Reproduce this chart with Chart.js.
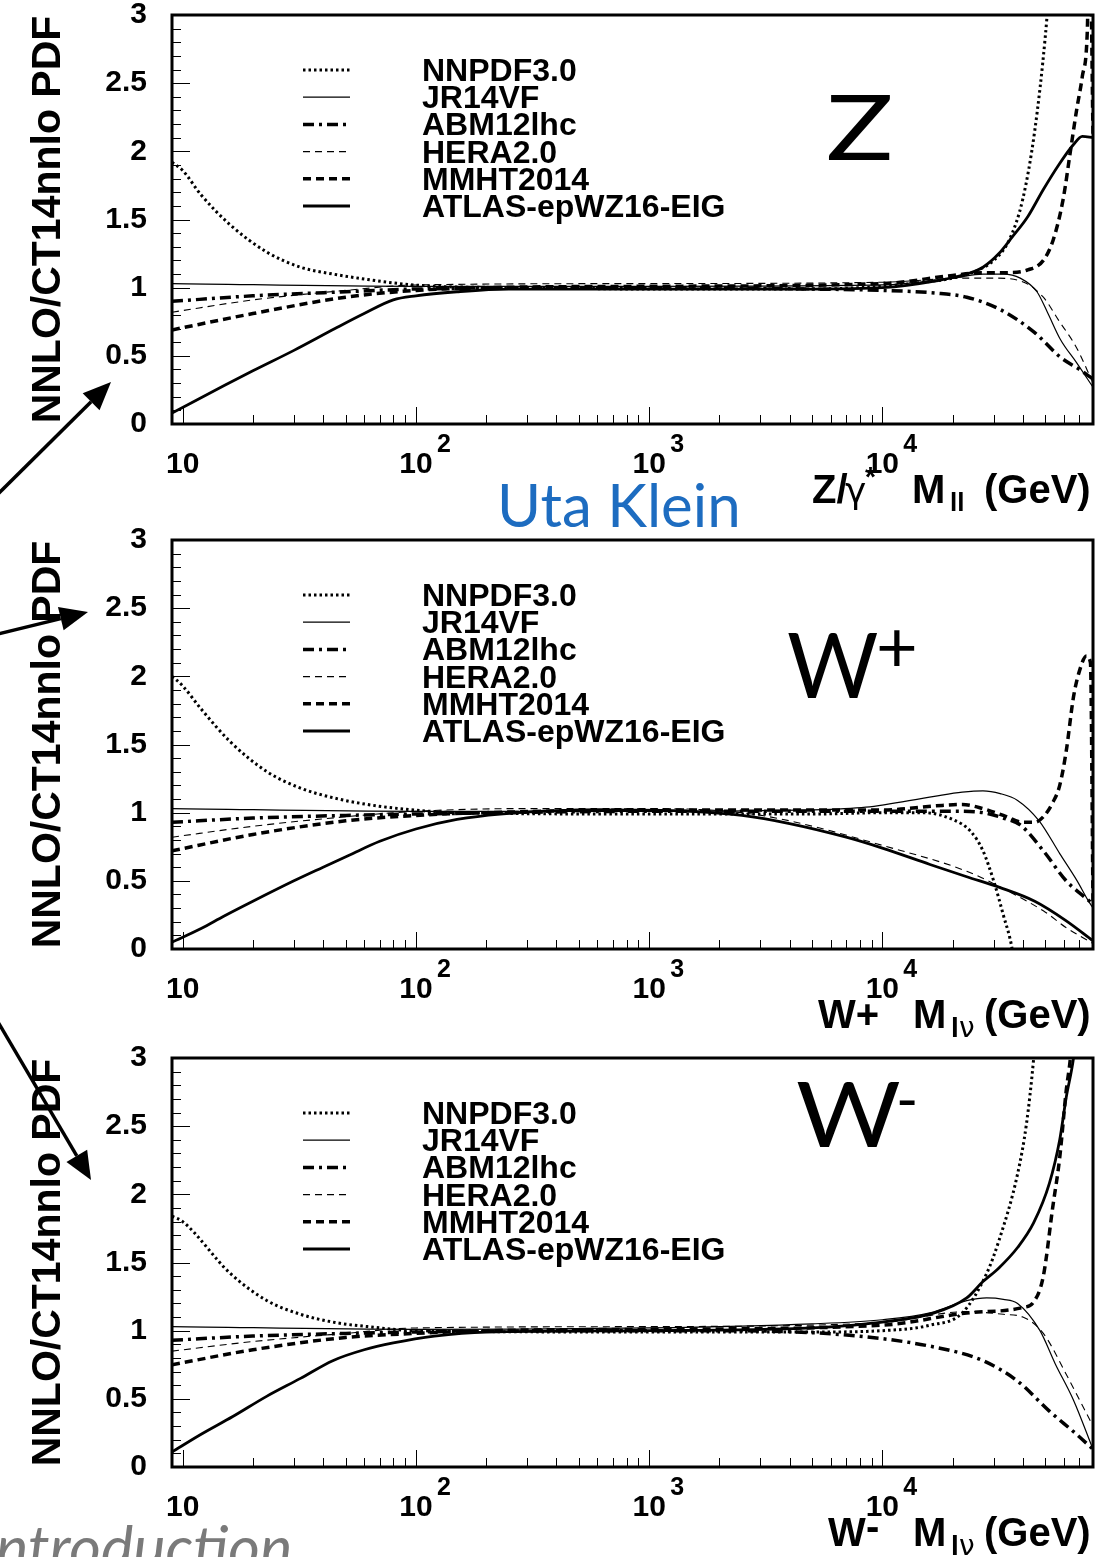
<!DOCTYPE html>
<html>
<head>
<meta charset="utf-8">
<script src="https://cdn.jsdelivr.net/npm/chart.js@4.4.1/dist/chart.umd.min.js"></script>
<style>
  html, body { margin: 0; padding: 0; background: #fff; overflow: hidden; }
  body { width: 1107px; height: 1557px; position: relative; }
  canvas.panel { position: absolute; left: 0; }
  #notes { position: absolute; left: 0; top: 0; }
</style>
</head>
<body>
<canvas id="pZ" class="panel" width="1107" height="548" style="top:-28px"></canvas>
<canvas id="pWp" class="panel" width="1107" height="548" style="top:497px"></canvas>
<canvas id="pWm" class="panel" width="1107" height="548" style="top:1015px"></canvas>
<svg id="notes" width="1107" height="1557">
  <text x="497" y="527" font-family="Lato, 'Open Sans', sans-serif" font-size="60" fill="#1d6cc0">Uta Klein</text>
  <text x="-4" y="1569" font-family="Lato, 'Open Sans', sans-serif" font-style="italic" font-size="61" fill="#7a7a7a">ntroduction</text>
</svg>
<script>
// PDF sets, in legend order
const pdfSets = ['NNPDF3.0', 'JR14VF', 'ABM12lhc', 'HERA2.0', 'MMHT2014', 'ATLAS-epWZ16-EIG'];
const yTitle = 'NNLO/CT14nnlo PDF';
const massRange = [9, 80000];
const decadeTicks = [10, 100, 1000, 10000];
const decadeExp = ['', '2', '3', '4'];

// ratio to CT14nnlo vs mass (GeV) -- Z/gamma* panel
const zNNPDF = [[9,1.92],[10,1.86],[12,1.68],[16,1.46],[23,1.26],[32,1.15],[44,1.10],[62,1.06],[85,1.03],[120,1.01],[300,1.0],[1000,0.99],[5000,0.99],[10000,1.01],[15000,1.04],[20000,1.07],[25000,1.12],[30000,1.20],[35000,1.35],[40000,1.65],[45000,2.15],[50000,2.85],[53000,3.4]];
const zJR14 = [[9,1.03],[100,1.01],[1000,1.01],[10000,1.02],[20000,1.07],[27000,1.10],[33000,1.10],[39000,1.07],[46000,0.97],[51000,0.82],[58000,0.62],[68000,0.45],[80000,0.27]];
const zABM = [[9,0.90],[20,0.94],[50,0.97],[100,0.99],[1000,1.0],[5000,0.99],[10000,0.98],[17000,0.96],[23000,0.93],[32000,0.84],[45000,0.67],[58000,0.49],[70000,0.40],[80000,0.33]];
const zHERA = [[9,0.82],[20,0.91],[50,0.98],[100,1.02],[1000,1.03],[10000,1.04],[23000,1.07],[30000,1.07],[39000,1.05],[49000,0.93],[57000,0.76],[68000,0.56],[80000,0.30]];
const zMMHT = [[9,0.69],[20,0.81],[50,0.93],[100,0.98],[200,1.0],[1000,1.01],[10000,1.03],[20000,1.09],[27000,1.11],[35000,1.11],[42000,1.13],[49000,1.20],[54000,1.35],[59600,1.65],[64000,2.0],[68000,2.30],[72000,2.55],[75500,2.85],[77500,3.6],[80000,2.12]];
const zATLAS = [[9,0.08],[15,0.28],[20,0.39],[30,0.54],[45,0.70],[60,0.81],[80,0.91],[100,0.94],[150,0.97],[250,0.99],[1000,0.99],[5000,0.99],[10000,1.0],[17000,1.05],[23000,1.10],[27000,1.15],[31600,1.25],[36000,1.37],[42000,1.52],[49000,1.72],[57000,1.90],[66000,2.05],[72000,2.11],[80000,2.10]];

// W+ panel
const wpNNPDF = [[9,2.0],[10,1.93],[12,1.76],[16,1.52],[23,1.30],[32,1.18],[44,1.11],[62,1.06],[85,1.03],[150,1.0],[1000,0.99],[5000,0.99],[10000,1.0],[15000,1.0],[20000,0.95],[24000,0.86],[27000,0.72],[30000,0.50],[33000,0.25],[36000,0.0],[38000,-0.3]];
const wpJR14 = [[9,1.03],[100,1.01],[1000,1.01],[5000,1.02],[8500,1.04],[16700,1.12],[22000,1.15],[27000,1.16],[32000,1.14],[38000,1.09],[47000,0.94],[57600,0.70],[68400,0.50],[76000,0.36],[80000,0.30]];
const wpABM = [[9,0.93],[20,0.96],[50,0.98],[100,0.99],[1000,1.01],[10000,1.01],[20000,1.01],[27000,1.0],[33000,0.96],[39000,0.91],[49000,0.72],[61400,0.50],[75000,0.37],[80000,0.33]];
const wpHERA = [[9,0.82],[20,0.90],[50,0.97],[100,1.01],[300,1.03],[1000,1.03],[2500,1.0],[4000,0.94],[10000,0.76],[23000,0.57],[35000,0.42],[50000,0.27],[61000,0.16],[80000,0.04]];
const wpMMHT = [[9,0.72],[20,0.84],[50,0.94],[100,0.98],[200,1.0],[1000,1.02],[10000,1.02],[17000,1.05],[22000,1.06],[27000,1.03],[33000,0.98],[40000,0.93],[45000,0.93],[49000,0.97],[54000,1.08],[57600,1.20],[61400,1.45],[66000,1.85],[70000,2.04],[75000,2.15],[78000,2.10],[80000,0.35]];
const wpATLAS = [[9,0.05],[12,0.15],[15,0.24],[20,0.35],[30,0.50],[40,0.60],[52,0.69],[70,0.79],[100,0.88],[150,0.95],[230,0.99],[600,1.02],[1500,1.01],[2500,0.98],[4000,0.92],[7000,0.82],[10000,0.74],[16000,0.62],[23000,0.53],[32000,0.45],[45000,0.35],[61000,0.21],[80000,0.06]];

// W- panel
const wmNNPDF = [[9,1.84],[10,1.80],[16,1.42],[23,1.22],[32,1.12],[45,1.06],[62,1.03],[100,1.0],[1000,0.99],[5000,0.99],[10000,1.0],[16000,1.04],[22000,1.13],[28000,1.42],[31600,1.66],[38000,2.15],[41500,2.52],[44500,2.99],[47000,3.5]];
const wmJR14 = [[9,1.03],[100,1.01],[1000,1.02],[5000,1.05],[10000,1.08],[16000,1.13],[23000,1.22],[28000,1.24],[33000,1.23],[38000,1.20],[47400,1.0],[55000,0.76],[66000,0.49],[80000,0.13]];
const wmABM = [[9,0.93],[20,0.96],[50,0.98],[100,0.99],[500,1.0],[2000,1.0],[6800,0.97],[16700,0.88],[27000,0.78],[38000,0.63],[52000,0.41],[68000,0.24],[80000,0.13]];
const wmHERA = [[9,0.85],[20,0.92],[50,0.98],[100,1.02],[1000,1.03],[10000,1.06],[23000,1.14],[33000,1.12],[40000,1.10],[49000,0.98],[61400,0.68],[80000,0.30]];
const wmMMHT = [[9,0.75],[20,0.86],[50,0.95],[100,0.98],[200,1.0],[1000,1.01],[10000,1.04],[23000,1.13],[40000,1.17],[44500,1.21],[49000,1.40],[53700,1.90],[57600,2.27],[61400,2.76],[64000,3.0],[66000,3.3]];
const wmATLAS = [[9,0.11],[12,0.24],[16.4,0.37],[23,0.52],[32,0.65],[44,0.78],[60,0.86],[80,0.91],[120,0.96],[200,0.99],[1000,1.0],[5000,1.02],[8500,1.05],[16700,1.13],[23000,1.24],[27000,1.36],[31600,1.46],[38000,1.61],[44500,1.79],[52000,2.08],[57600,2.40],[61400,2.71],[66000,3.0],[68000,3.2]];

// ROOT-ish line styles, same order as pdfSets
const lineStyles = [
  { width: 3, dash: [2.5, 3] },
  { width: 1.2, dash: [] },
  { width: 3.5, dash: [11, 5, 3, 5] },
  { width: 1.1, dash: [7, 5] },
  { width: 3.5, dash: [8, 5] },
  { width: 2.8, dash: [] }
];

const HELV = '"Liberation Sans", Arial, Helvetica, sans-serif';
const GILL = 'Lato, "Open Sans", sans-serif';

const rootFrame = {
  id: 'rootFrame',
  afterDraw(chart, args, opts) {
    const { ctx, chartArea: a, scales: { x, y } } = chart;
    ctx.save();
    ctx.strokeStyle = '#000';
    ctx.fillStyle = '#000';

    // y ticks, pointing inward
    ctx.lineWidth = 1;
    for (let i = 0; i <= 30; i++) {
      const py = Math.round(y.getPixelForValue(i / 10)) + 0.5;
      const len = i % 5 === 0 ? 18 : 9;
      ctx.beginPath(); ctx.moveTo(a.left, py); ctx.lineTo(a.left + len, py); ctx.stroke();
    }
    // log x ticks
    for (let d = 0; d <= 4; d++) {
      for (let m = 1; m <= 9; m++) {
        const v = m * Math.pow(10, d);
        if (v < x.min || v > x.max) continue;
        const px = Math.round(x.getPixelForValue(v)) + 0.5;
        const len = m === 1 ? 17 : 9;
        ctx.beginPath(); ctx.moveTo(px, a.bottom); ctx.lineTo(px, a.bottom - len); ctx.stroke();
      }
    }
    // frame
    ctx.lineWidth = 3;
    ctx.strokeRect(a.left, a.top, a.right - a.left, a.bottom - a.top);

    // decade labels 10, 10^2 ...
    ctx.textBaseline = 'alphabetic';
    decadeTicks.forEach((v, i) => {
      const px = x.getPixelForValue(v);
      ctx.font = `bold 30px ${HELV}`;
      ctx.textAlign = 'center';
      ctx.fillText('10', px, a.bottom + 49);
      if (decadeExp[i]) {
        ctx.font = `bold 25px ${HELV}`;
        ctx.textAlign = 'left';
        ctx.fillText(decadeExp[i], px + 21, a.bottom + 28);
      }
    });

    // y title
    ctx.save();
    ctx.translate(60, (a.top + a.bottom) / 2);
    ctx.rotate(-Math.PI / 2);
    ctx.font = `bold 41px ${HELV}`;
    ctx.textAlign = 'center';
    ctx.fillText(yTitle, 0, 0);
    ctx.restore();

    // x title pieces
    ctx.textAlign = 'left';
    opts.title.forEach(s => {
      ctx.font = `${s.w || 'bold'} ${s.size || 40}px ${s.fam || HELV}`;
      ctx.fillText(s.t, s.x, a.bottom + 79 + (s.dy || 0));
    });

    // legend, built from the datasets
    chart.data.datasets.forEach((ds, i) => {
      const cy = a.top + 55 + i * 27.2;
      ctx.save();
      ctx.lineWidth = ds.borderWidth;
      ctx.setLineDash(ds.borderDash);
      ctx.beginPath(); ctx.moveTo(303, cy); ctx.lineTo(350, cy); ctx.stroke();
      ctx.restore();
      ctx.font = `bold 32px ${HELV}`;
      ctx.fillText(ds.label, 422, cy + 11);
    });

    // process label
    const L = opts.label;
    ctx.save();
    ctx.translate(L.x, a.top + L.base);
    ctx.scale(L.sx || 1, 1);
    ctx.font = `400 92px ${GILL}`;
    ctx.fillText(L.t, 0, 0);
    ctx.restore();
    if (L.sup) {
      ctx.font = `400 ${L.supSize || 60}px ${GILL}`;
      ctx.fillText(L.sup, L.supX, a.top + L.base + L.supDy);
    }
    ctx.restore();
  }
};

function makePanel(id, curves, title, label) {
  return new Chart(document.getElementById(id), {
    type: 'line',
    data: {
      datasets: curves.map((pts, i) => ({
        label: pdfSets[i],
        data: pts.map(([m, r]) => ({ x: m, y: r })),
        borderColor: '#000',
        borderWidth: lineStyles[i].width,
        borderDash: lineStyles[i].dash,
        pointRadius: 0,
        fill: false,
        cubicInterpolationMode: 'monotone'
      }))
    },
    options: {
      responsive: false,
      animation: false,
      layout: { padding: { top: 43, right: 14, left: 0, bottom: 0 } },
      scales: {
        x: {
          type: 'logarithmic', min: massRange[0], max: massRange[1],
          ticks: { display: false }, grid: { display: false, drawTicks: false }, border: { display: false },
          afterFit: s => { s.height = 96; }
        },
        y: {
          min: 0, max: 3,
          ticks: {
            stepSize: 0.5, color: '#000', padding: 25,
            font: { family: HELV, size: 30, weight: 'bold' },
            callback: v => String(Math.round(v * 10) / 10)
          },
          grid: { display: false, drawTicks: false }, border: { display: false },
          afterFit: s => { s.width = 172; }
        }
      },
      plugins: {
        legend: { display: false },
        tooltip: { enabled: false },
        rootFrame: { title, label }
      }
    },
    plugins: [rootFrame]
  });
}

makePanel('pZ', [zNNPDF, zJR14, zABM, zHERA, zMMHT, zATLAS],
  [{ t: 'Z/', x: 812 }, { t: 'γ', x: 845, w: 'normal', size: 36, fam: '"DejaVu Sans", sans-serif' }, { t: '*', x: 865, size: 28, dy: -17 },
   { t: 'M', x: 912 }, { t: 'll', x: 950, size: 26, dy: 8 }, { t: '(GeV)', x: 984 }],
  { t: 'Z', x: 826, base: 145, sx: 1.22 });
makePanel('pWp', [wpNNPDF, wpJR14, wpABM, wpHERA, wpMMHT, wpATLAS],
  [{ t: 'W+', x: 818 }, { t: 'M', x: 913 }, { t: 'l', x: 951, size: 28, dy: 9 }, { t: 'ν', x: 959, w: 'normal', size: 28, dy: 9, fam: '"DejaVu Sans", sans-serif' }, { t: '(GeV)', x: 984 }],
  { t: 'W', x: 787, base: 158, sx: 0.96, supX: 876, supDy: -26, supSize: 72, sup: '+' });
makePanel('pWm', [wmNNPDF, wmJR14, wmABM, wmHERA, wmMMHT, wmATLAS],
  [{ t: 'W', x: 828 }, { t: '-', x: 866, dy: -6 }, { t: 'M', x: 913 }, { t: 'l', x: 951, size: 28, dy: 9 }, { t: 'ν', x: 959, w: 'normal', size: 28, dy: 9, fam: '"DejaVu Sans", sans-serif' }, { t: '(GeV)', x: 984 }],
  { t: 'W', x: 796, base: 89, sx: 1.1, supX: 896, supDy: -26, sup: '-' });

// pointer arrows on the left margin
const svg = document.getElementById('notes');
function arrow(x0, y0, x1, y1) {
  const ns = 'http://www.w3.org/2000/svg';
  const ang = Math.atan2(y1 - y0, x1 - x0);
  const hl = 28, hw = 12;
  const bx = x1 - hl * Math.cos(ang), by = y1 - hl * Math.sin(ang);
  const line = document.createElementNS(ns, 'line');
  line.setAttribute('x1', x0); line.setAttribute('y1', y0);
  line.setAttribute('x2', bx); line.setAttribute('y2', by);
  line.setAttribute('stroke', '#000'); line.setAttribute('stroke-width', 3.5);
  svg.appendChild(line);
  const nx = -Math.sin(ang), ny = Math.cos(ang);
  const head = document.createElementNS(ns, 'polygon');
  head.setAttribute('points', `${x1},${y1} ${bx + nx * hw},${by + ny * hw} ${bx - nx * hw},${by - ny * hw}`);
  head.setAttribute('fill', '#000');
  svg.appendChild(head);
}
arrow(-2, 494, 111, 382);
arrow(-2, 634, 88, 612);
arrow(-2, 1022, 91, 1180);
</script>
</body>
</html>
